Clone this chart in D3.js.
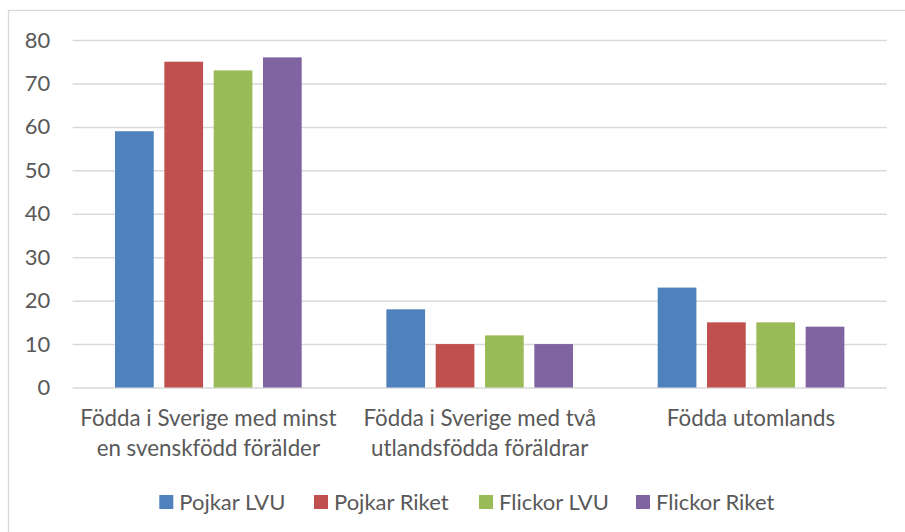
<!DOCTYPE html>
<html><head><meta charset="utf-8">
<script src="https://cdn.jsdelivr.net/npm/d3@7"></script>
<style>
html,body{margin:0;padding:0;background:#fff;}
svg text{font-family:Lato,"Open Sans",sans-serif;fill:#595959;}
</style></head>
<body><svg id="c" width="905" height="532"></svg>
<script>
const categories = [
  ["Födda i Sverige med minst", "en svenskfödd förälder"],
  ["Födda i Sverige med två", "utlandsfödda föräldrar"],
  ["Födda utomlands"]
];
const seriesNames = ["Pojkar LVU", "Pojkar Riket", "Flickor LVU", "Flickor Riket"];
const seriesColors = ["#4F81BD", "#C0504D", "#9BBB59", "#8064A2"];
const pojkarLVU   = [59, 18, 23];
const pojkarRiket = [75, 10, 15];
const flickorLVU  = [73, 12, 15];
const flickorRiket= [76, 10, 14];
const yTicks = [0, 10, 20, 30, 40, 50, 60, 70, 80];

(function () {
const series = [pojkarLVU, pojkarRiket, flickorLVU, flickorRiket];
const svg = d3.select("#c");

svg.append("rect").attr("x", 8.5).attr("y", 10.5).attr("width", 910).attr("height", 540)
  .attr("fill", "none").attr("stroke", "#d9d9d9").attr("stroke-width", 1.3);

const pLeft = 72.7, pRight = 886.7, pTop = 40, pBottom = 387.5;
const catIdx = categories.map((d, i) => i);
const x0 = d3.scaleBand().domain(catIdx).range([pLeft, pRight]).paddingInner(0.312).paddingOuter(0.156);
const x1 = d3.scaleBand().domain(d3.range(series.length)).range([0, x0.bandwidth()]).paddingInner(0.215).paddingOuter(0);
const y = d3.scaleLinear().domain([0, 80]).range([pBottom, pTop]);

const yAxis = d3.axisLeft(y).tickValues(yTicks).tickSize(-(pRight - pLeft)).tickPadding(22.5);
const gy = svg.append("g").attr("transform", `translate(${pLeft},0)`).call(yAxis);
gy.select(".domain").remove();
gy.selectAll(".tick line").attr("stroke", "#d9d9d9").attr("stroke-width", 1.5);
gy.selectAll(".tick text").attr("font-size", 22).attr("fill", "#595959")
  .style("font-family", "Lato");

const groups = svg.append("g").selectAll("g").data(catIdx).join("g")
  .attr("transform", d => `translate(${x0(d)},0)`);
groups.selectAll("rect").data(c => series.map((s, si) => ({si, v: s[c]}))).join("rect")
  .attr("x", d => x1(d.si)).attr("width", x1.bandwidth())
  .attr("y", d => y(d.v)).attr("height", d => y(0) - y(d.v))
  .attr("fill", d => seriesColors[d.si]);

const cl = svg.append("g").selectAll("text").data(catIdx).join("text")
  .attr("x", d => x0(d) + x0.bandwidth() / 2).attr("y", 426)
  .attr("text-anchor", "middle").attr("font-size", 22.3);
cl.selectAll("tspan").data(d => categories[d]).join("tspan")
  .attr("x", function() { return this.parentNode.getAttribute("x"); })
  .attr("dy", (d, i) => i === 0 ? 0 : 29.5).text(d => d);

const legendX = [159.3, 314, 479, 636];
const lg = svg.append("g").selectAll("g").data(seriesNames).join("g")
  .attr("transform", (d, i) => `translate(${legendX[i]},502)`);
lg.append("rect").attr("x", 0).attr("y", -7).attr("width", 14).attr("height", 14)
  .attr("fill", (d, i) => seriesColors[i]);
lg.append("text").attr("x", 20).attr("y", 0).attr("dy", "0.35em").attr("font-size", 22).text(d => d);
})();
</script></body></html>
